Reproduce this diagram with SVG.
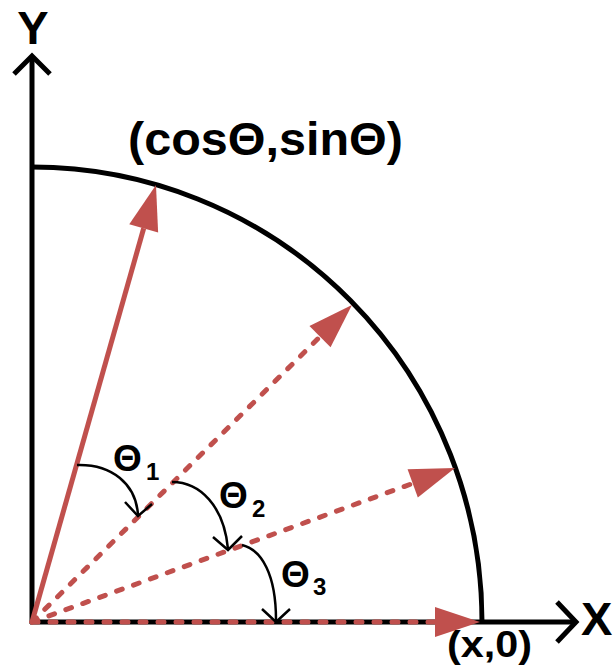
<svg xmlns="http://www.w3.org/2000/svg" width="616" height="672" viewBox="0 0 616 672">
  <style>
    .ax { fill: none; stroke: #000; stroke-width: 5; stroke-linejoin: miter; }
    .vec { fill: none; stroke: #c0504d; stroke-width: 5; }
    .dash { stroke-dasharray: 6 12; stroke-linecap: round; }
    .ang { fill: none; stroke: #000; stroke-width: 2.5; }
    .lbl { font-family: "Liberation Sans", Arial, sans-serif; font-weight: bold; fill: #000; }
    .big { font-size: 47px; }
    .th { font-size: 37px; }
    .sub { font-size: 24px; }
  </style>
  <defs>
    <marker id="ah" markerUnits="userSpaceOnUse" markerWidth="50" markerHeight="34" refX="0" refY="17" orient="auto" overflow="visible">
      <path d="M0,2 L45,17 L0,32 Z" fill="#c0504d"/>
    </marker>
  </defs>
  <rect width="616" height="672" fill="#fff"/>

  <g id="axes">
    <line class="ax" x1="32" y1="624" x2="32" y2="57"/>
    <polyline class="ax" points="14,74 32,56 50,74"/>
    <line class="ax" x1="30" y1="622" x2="575" y2="622"/>
    <polyline class="ax" points="557,602 576,622 557,642"/>
  </g>

  <g id="unit-arc">
    <path class="ax" d="M32,167 A450,455 0 0 1 482,622"/>
  </g>

  <g id="connectors">
    <line class="vec" x1="32" y1="622" x2="143.7" y2="228.3" marker-end="url(#ah)"/>
    <line class="vec dash" x1="32" y1="622" x2="320" y2="336.7" marker-end="url(#ah)"/>
    <line class="vec dash" x1="32" y1="622" x2="412.7" y2="483.4" marker-end="url(#ah)"/>
    <line class="vec dash" x1="32" y1="622" x2="435" y2="622" marker-end="url(#ah)"/>
    <path class="ang" d="M77,465 C112,464 136,484 138,515"/>
    <polyline class="ang" points="125,502 138,516 152,504"/>
    <path class="ang" d="M172,482 C200,482 224,506 228,549"/>
    <polyline class="ang" points="213,537 228,550 242,536"/>
    <path class="ang" d="M242,545 C262,550 276,575 276,620"/>
    <polyline class="ang" points="262,609 276,622 290,609"/>
  </g>

  <g id="labels">
    <text class="lbl big" x="33" y="44" text-anchor="middle">Y</text>
    <text class="lbl big" x="581" y="635">X</text>
    <text class="lbl big" x="128" y="155" textLength="275" lengthAdjust="spacingAndGlyphs">(cosΘ,sinΘ)</text>
    <text class="lbl th" x="113" y="471">Θ<tspan class="sub" x="146" y="480">1</tspan></text>
    <text class="lbl th" x="219" y="508">Θ<tspan class="sub" x="252" y="517">2</tspan></text>
    <text class="lbl th" x="281" y="587">Θ<tspan class="sub" x="313" y="595">3</tspan></text>
    <text class="lbl th" x="447" y="657" textLength="85" lengthAdjust="spacingAndGlyphs">(x,0)</text>
  </g>
</svg>
